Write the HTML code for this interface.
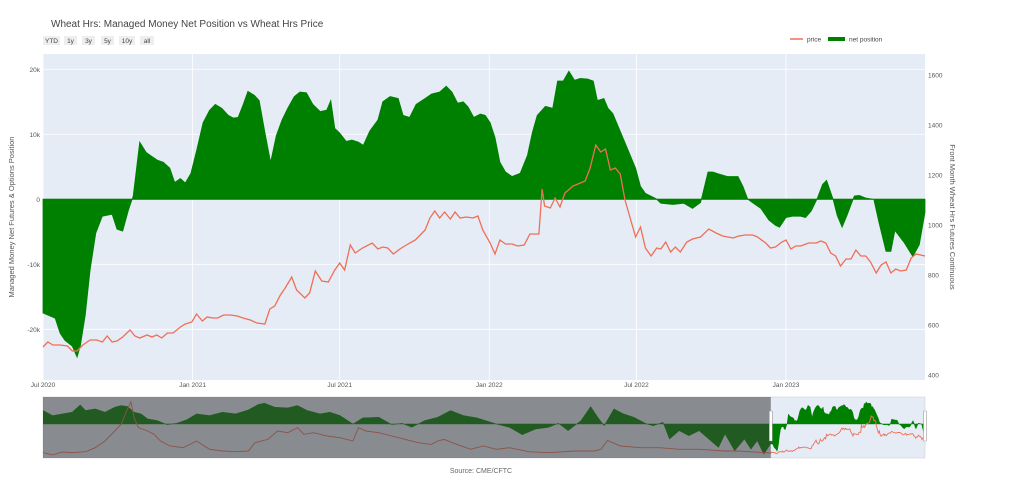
<!DOCTYPE html>
<html><head><meta charset="utf-8">
<style>
html,body{margin:0;padding:0;background:#fff;}
svg{display:block;font-family:"Liberation Sans",sans-serif;}
</style></head>
<body>
<svg id="chart" width="1024" height="501" viewBox="0 0 1024 501" xmlns="http://www.w3.org/2000/svg">
<defs><clipPath id="sclip"><rect x="43" y="397" width="882" height="61"/></clipPath></defs>
<text x="51" y="27" font-size="10" fill="#444">Wheat Hrs: Managed Money Net Position vs Wheat Hrs Price</text>
<g font-size="6.5" fill="#444">
<g><rect x="43" y="36" width="17" height="9" fill="#eeeeee"/><text x="51.5" y="43" text-anchor="middle">YTD</text></g>
<g><rect x="64" y="36" width="13" height="9" fill="#eeeeee"/><text x="70.5" y="43" text-anchor="middle">1y</text></g>
<g><rect x="82" y="36" width="13" height="9" fill="#eeeeee"/><text x="88.5" y="43" text-anchor="middle">3y</text></g>
<g><rect x="101" y="36" width="13" height="9" fill="#eeeeee"/><text x="107.5" y="43" text-anchor="middle">5y</text></g>
<g><rect x="119" y="36" width="16" height="9" fill="#eeeeee"/><text x="127" y="43" text-anchor="middle">10y</text></g>
<g><rect x="140" y="36" width="14" height="9" fill="#eeeeee"/><text x="147" y="43" text-anchor="middle">all</text></g>
</g>
<g font-size="6.5" fill="#444">
<g><line x1="790" y1="39" x2="803" y2="39" stroke="#ef6f56" stroke-width="1.5"/><text x="807" y="41.5">price</text></g>
<g><rect x="828" y="37" width="17" height="4" fill="#008000"/><text x="849" y="41.5">net position</text></g>
</g>
<rect x="43" y="54" width="882" height="326" fill="#e5ecf6"/>
<g id="grid"></g>
<g id="marks"></g>
<g id="axes" font-size="6.5" fill="#555"></g>
<text transform="translate(14,217) rotate(-90)" text-anchor="middle" font-size="7.5" fill="#555">Managed Money Net Futures &amp; Options Position</text>
<text transform="translate(950,217) rotate(90)" text-anchor="middle" font-size="7.5" fill="#555">Front Month Wheat Hrs Futures Continuous</text>
<g id="slider"></g>
<text x="481" y="473" text-anchor="middle" font-size="7" fill="#666">Source: CME/CFTC</text>
</svg>
<script>
// ---- main chart data (days since 2020-07-01) ----
const netDays=[0,15,21,27,36,42,46,52,58,65,73,85,91,98,105,111,119,127,134,141,148,156,162,169,175,182,189,197,205,212,220,228,234,240,246,252,260,266,273,280,287,294,301,309,316,324,332,341,349,354,359,365,373,380,388,394,402,412,418,427,437,443,451,459,470,478,488,496,503,510,517,523,530,538,544,550,556,562,569,577,587,596,602,608,618,627,633,640,647,654,661,670,677,682,690,695,701,720,729,735,741,754,760,775,788,799,809,818,824,831,842,855,861,867,877,883,893,901,906,914,922,932,938,945,952,959,964,972,977,983,989,998,1004,1012,1022,1028,1037,1043,1048,1059,1070,1078,1085];
const netValues=[-17.5,-18.3,-20.6,-21.7,-22.6,-24.3,-22.5,-17.8,-10.9,-5.2,-2.6,-2.3,-4.6,-4.9,-1.7,0.5,8.8,7.2,6.6,6.0,5.7,4.8,2.6,3.2,2.5,4.0,7.5,11.8,13.7,14.6,14.0,12.9,12.5,12.6,14.5,16.6,16.0,15.2,10.3,5.7,9.8,12.2,14.0,15.8,16.5,16.4,14.6,13.5,13.7,15.2,10.9,10.2,8.9,9.1,8.8,8.3,10.5,12.2,15.0,15.8,15.5,12.9,12.6,14.6,15.5,16.2,16.5,17.4,16.5,14.8,15.0,14.2,12.6,13.1,12.9,11.8,9.5,5.7,4.2,3.5,4.0,6.8,10.3,12.9,14.3,14.0,18.2,18.2,19.7,18.3,18.6,18.5,18.2,15.2,15.5,14.0,13.2,7.5,4.8,2.0,0.9,0.1,-0.6,-0.8,-0.6,-1.4,-0.5,4.2,4.2,3.9,3.5,3.5,2.0,0,-0.9,-1.4,-3.2,-4.0,-4.3,-2.8,-2.6,-2.6,-2.8,-1.8,0,2.3,2.9,0,-2.5,-4.3,-2.5,0.5,0.6,0.2,0,-3.4,-8.0,-8.0,-4.8,-6.6,-8.8,-7.0,-2.0];
const priceDays=[0,6,12,21,30,36,42,49,58,66,73,79,85,91,98,107,113,119,128,134,140,146,153,160,169,175,183,189,196,202,209,215,222,230,239,246,255,263,273,279,285,292,298,306,312,322,328,335,343,351,359,365,371,378,384,393,405,412,418,424,431,439,449,458,464,470,476,482,488,494,501,507,513,521,529,535,541,550,556,562,569,577,584,592,599,610,614,617,624,630,636,642,652,661,667,673,680,686,692,698,704,710,716,723,729,735,741,748,755,760,766,772,778,784,792,799,809,819,828,836,849,856,864,873,879,889,895,901,909,914,920,926,932,942,951,957,963,969,975,981,988,994,1000,1006,1012,1018,1025,1031,1037,1043,1049,1055,1062,1068,1074,1085];
const priceValues=[512,532,520,520,516,496,496,520,540,540,532,556,532,536,552,580,556,548,560,552,560,548,568,568,592,604,612,644,616,632,628,628,640,640,636,628,620,608,604,664,676,720,748,792,740,708,728,816,776,772,820,848,820,920,888,908,928,904,912,908,884,904,924,940,960,980,1028,1056,1028,1052,1024,1052,1028,1032,1028,1036,980,928,884,940,924,924,916,920,964,964,1144,1076,1068,1108,1072,1128,1156,1168,1176,1228,1320,1292,1304,1220,1228,1204,1100,1020,952,992,908,876,908,904,932,892,912,892,932,944,952,984,968,956,948,956,960,960,952,928,908,912,932,940,904,916,916,928,928,936,928,888,876,836,864,864,900,876,876,852,808,840,852,808,824,816,820,868,884,876];
const xTickDays=[0,184,365,549,730,914];
const xTickLabels=["Jul 2020","Jan 2021","Jul 2021","Jan 2022","Jul 2022","Jan 2023"];
const leftTicks=[20,10,0,-10,-20];
const leftTickLabels=["20k","10k","0","-10k","-20k"];
const rightTicks=[1600,1400,1200,1000,800,600,400];
// ---- range slider history (decimal years) ----
const histNetYears=[2007.00,2007.18,2007.36,2007.54,2007.69,2007.79,2007.97,2008.15,2008.33,2008.45,2008.57,2008.69,2008.82,2008.94,2009.12,2009.30,2009.48,2009.66,2009.85,2010.09,2010.33,2010.57,2010.81,2010.99,2011.11,2011.30,2011.54,2011.72,2011.90,2012.14,2012.32,2012.51,2012.75,2012.93,2013.23,2013.47,2013.66,2013.84,2014.08,2014.32,2014.56,2014.80,2015.05,2015.41,2015.65,2015.89,2016.14,2016.38,2016.56,2016.74,2016.98,2017.16,2017.29,2017.41,2017.59,2017.77,2017.96,2018.20,2018.32,2018.50,2018.62,2018.80,2018.98,2019.17,2019.35,2019.53,2019.65,2019.83,2020.01,2020.13,2020.25,2020.37,2020.50];
const histNetValues=[12,7.5,9,10.5,17,12,13.5,10.5,15,16.5,15.6,10.5,9,4.5,3,-0.6,0.6,3.6,9,7.5,10.5,9,12.6,17.4,18.6,15,14.4,16.5,12,9,10.5,7.5,0,5.4,6,-0.6,0.6,-3,3,6,12,7.5,5.4,0,-3,-9.6,-4.5,-3,0.6,-6,3,15.6,6,-1.5,13.5,9,6,0,-1.5,1.5,-13.5,-6,-10.5,-6,-13.5,-21,-9,-24,-13.5,-22.5,-15,-27,-17.5];
const histPriceYears=[2007.00,2007.18,2007.36,2007.54,2007.79,2007.97,2008.15,2008.33,2008.45,2008.55,2008.63,2008.69,2008.77,2008.94,2009.06,2009.18,2009.36,2009.60,2009.85,2010.09,2010.33,2010.57,2010.81,2010.93,2011.17,2011.35,2011.54,2011.72,2011.84,2012.02,2012.27,2012.51,2012.75,2012.85,2012.99,2013.23,2013.47,2013.72,2013.96,2014.20,2014.32,2014.44,2014.68,2014.93,2015.17,2015.41,2015.65,2016.01,2016.38,2016.86,2017.22,2017.35,2017.47,2017.71,2018.08,2018.44,2018.80,2019.17,2019.65,2019.90,2020.50];
const histPriceValues=[519,470,534,519,541,628,774,992,1138,1429,1633,1284,1065,992,920,774,665,628,774,592,556,541,556,738,810,992,956,1065,920,956,883,847,774,1065,992,956,883,810,738,701,774,810,701,592,665,592,628,541,519,556,556,592,788,665,628,628,592,592,556,556,512];
// slider time span
const sliderStart=2007.0, sliderEnd=2023.36, viewStartYear=2020.5;

const NS="http://www.w3.org/2000/svg";
function mk(tag,attrs,parent){const e=document.createElementNS(NS,tag);for(const k in attrs)e.setAttribute(k,attrs[k]);parent.appendChild(e);return e;}
const X0=43,X1=925,Y0=54,Y1=380,D1=1085;
const xScale=d=>X0+(d/D1)*(X1-X0);
const netMin=-27.8,netMax=22.35;
const yNet=v=>Y1-(v-netMin)/(netMax-netMin)*(Y1-Y0);
const pMin=380,pMax=1684;
const yPrice=p=>Y1-(p-pMin)/(pMax-pMin)*(Y1-Y0);

const grid=document.getElementById('grid'),marks=document.getElementById('marks'),axes=document.getElementById('axes');
xTickDays.forEach((d,i)=>{
  const l=mk('line',{x1:xScale(d),x2:xScale(d),y1:Y0,y2:Y1,stroke:'#fff','stroke-width':0.8},grid);
  
  
  const t=mk('text',{x:xScale(d),y:387,'text-anchor':'middle'},axes);t.textContent=xTickLabels[i];
  
  
});
leftTicks.forEach((v,i)=>{
  const l=mk('line',{x1:X0,x2:X1,y1:yNet(v),y2:yNet(v),stroke:'#fff','stroke-width':v===0?1.5:0.8},grid);
  
  
  const t=mk('text',{x:40,y:yNet(v)+2.5,'text-anchor':'end'},axes);t.textContent=leftTickLabels[i];
  
  
});
rightTicks.forEach(v=>{
  const t=mk('text',{x:928,y:yPrice(v)+2.5,'text-anchor':'start'},axes);t.textContent=String(v);
  
  
});
function areaPath(xs,ys,xf,yf,base){
  let p='M'+xf(xs[0])+','+yf(base);
  xs.forEach((x,i)=>{p+=' L'+xf(x).toFixed(1)+','+yf(ys[i]).toFixed(1);});
  return p+' L'+xf(xs[xs.length-1])+','+yf(base)+' Z';
}
function linePath(xs,ys,xf,yf){return xs.map((x,i)=>(i?'L':'M')+xf(x).toFixed(1)+','+yf(ys[i]).toFixed(1)).join(' ');}
const na=mk('path',{d:areaPath(netDays,netValues,xScale,yNet,0),fill:'#008000',stroke:'#008000','stroke-width':0.8},marks);


const zl=mk('line',{x1:X0,x2:X1,y1:yNet(0),y2:yNet(0),stroke:'#008000','stroke-width':1},marks);


const pl=mk('path',{d:linePath(priceDays,priceValues,xScale,yPrice),fill:'none',stroke:'#ef6f56','stroke-width':1.3},marks);



const slider=document.getElementById('slider');
const SY0=397,SY1=458;
const sx=yr=>X0+(yr-sliderStart)/(sliderEnd-sliderStart)*(X1-X0);
const sNet=v=>SY1-(v+30.4)/(24.1+30.4)*(SY1-SY0);
const sPrice=p=>SY1-(p-403)/(1735-403)*(SY1-SY0);
const dayToYear=d=>viewStartYear+d/365.25;
const sbg=mk('rect',{x:X0,y:SY0,width:X1-X0,height:SY1-SY0,fill:'#e5ecf6',stroke:'#ccc','stroke-width':0.5},slider);


const sg=mk('g',{'clip-path':'url(#sclip)'},slider);


const allNetYears=histNetYears.concat(netDays.map(dayToYear));
const allNetVals=histNetValues.concat(netValues);
const allPriceYears=histPriceYears.concat(priceDays.map(dayToYear));
const allPriceVals=histPriceValues.concat(priceValues);
const sa=mk('path',{d:areaPath(allNetYears,allNetVals,sx,sNet,0),fill:'#008000',stroke:'#008000','stroke-width':0.5},sg);


const sp=mk('path',{d:linePath(allPriceYears,allPriceVals,sx,sPrice),fill:'none',stroke:'#ef6f56','stroke-width':0.9},sg);


const vs=sx(viewStartYear);
const sh=mk('rect',{x:X0,y:SY0,width:vs-X0,height:SY1-SY0,fill:'rgba(60,60,60,0.55)'},slider);


[vs,X1].forEach(hx=>{
  const h=mk('rect',{x:hx-1.5,y:411,width:3,height:30,fill:'#fff',stroke:'#999','stroke-width':0.6,rx:0.5},slider);
  
  
});
</script>
</body></html>
